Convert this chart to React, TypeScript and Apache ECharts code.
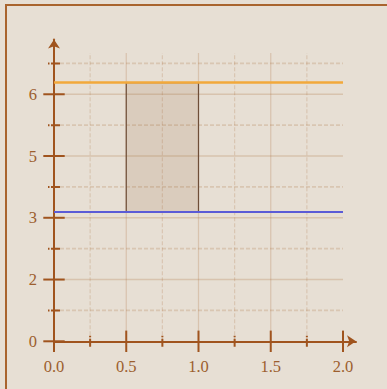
import React, { useEffect, useRef } from "react";
import * as echarts from "echarts";

// ---- data ----
const xMajor = [0, 0.5, 1, 1.5, 2];
const xMinor = [0.25, 0.75, 1.25, 1.75];
const yMajor = [0, 1.5, 3, 4.5, 6];
const yMinor = [0.75, 2.25, 3.75, 5.25, 6.75];
const gridXEnd = 2;
const gridYEnd = 7;
const lowerLevel = Math.PI;
const upperLevel = 2 * Math.PI;
const bandX = [0.5, 1.0];
const xAxisEnd = 2.09;
const yAxisEnd = 7.33;

const AXIS = "#a0541e";
const GRID = "rgba(170,110,60,0.25)";
const GRID_D = "rgba(170,110,60,0.22)";
const TEXT = "#9c5e2e";

type Render = (v: number, api: any) => number[][];

function segSeries(values: number[], render: Render, style: any, z: number) {
  return {
    type: "custom",
    coordinateSystem: "cartesian2d",
    silent: true,
    clip: false,
    z,
    data: values.map((v) => [v, 0]),
    encode: { x: 0, y: 1 },
    renderItem: (_p: any, api: any) => {
      const [a, b] = render(api.value(0), api);
      return {
        type: "line",
        shape: { x1: a[0], y1: a[1], x2: b[0], y2: b[1] },
        style: { fill: null, ...style },
      };
    },
  };
}

export default function App() {
  const ref = useRef<HTMLDivElement>(null);
  useEffect(() => {
    if (!ref.current) return;
    const chart = echarts.init(ref.current, null, { renderer: "svg" });
    const vGrid: Render = (v, api) => [api.coord([v, 0]), api.coord([v, gridYEnd])];
    const hGrid: Render = (v, api) => [api.coord([0, v]), api.coord([gridXEnd, v])];
    const xTick = (len: number): Render => (v, api) => {
      const p = api.coord([v, 0]);
      return [[p[0], p[1] - len], [p[0], p[1] + len]];
    };
    const yTick = (len: number): Render => (v, api) => {
      const p = api.coord([0, v]);
      return [[p[0] - len, p[1]], [p[0] + len, p[1]]];
    };
    chart.setOption({
      animation: false,
      backgroundColor: "#e7dfd4",
      grid: { left: 54, right: 31, top: 39.5, bottom: 47.7, containLabel: false },
      xAxis: {
        type: "value",
        min: 0,
        max: xAxisEnd,
        interval: 0.5,
        splitLine: { show: false },
        axisTick: { show: false },
        axisLine: {
          show: true,
          lineStyle: { color: AXIS, width: 2 },
          symbol: ["none", "arrow"],
          symbolSize: [9, 9],
        },
        axisLabel: {
          color: TEXT,
          fontFamily: "Liberation Serif",
          fontSize: 16.5,
          margin: 17,
          showMaxLabel: true,
          formatter: (v: number) => (v <= gridXEnd + 0.001 ? v.toFixed(1) : ""),
        },
      },
      yAxis: {
        type: "value",
        min: 0,
        max: yAxisEnd,
        interval: 1.5,
        splitLine: { show: false },
        axisTick: { show: false },
        axisLine: {
          show: true,
          lineStyle: { color: AXIS, width: 2 },
          symbol: ["none", "arrow"],
          symbolSize: [9, 9],
        },
        axisLabel: {
          color: TEXT,
          fontFamily: "Liberation Serif",
          fontSize: 16.5,
          margin: 17,
          formatter: (v: number) => (v <= 6.5 ? String(Math.round(v)) : ""),
        },
      },
      graphic: [
        {
          type: "polyline",
          shape: { points: [[6, 389], [6, 5], [387, 5]] },
          style: { stroke: "#a9642e", lineWidth: 2, fill: null },
          z: 10,
        },
      ],
      series: [
        segSeries(xMajor.filter((v) => v > 0 && v < gridXEnd), vGrid, { stroke: GRID, lineWidth: 1.2 }, 1),
        segSeries(xMinor, vGrid, { stroke: GRID_D, lineWidth: 1.2, lineDash: [4, 2] }, 1),
        segSeries(yMajor.filter((v) => v > 0), hGrid, { stroke: GRID, lineWidth: 1.5 }, 1),
        segSeries(yMinor, hGrid, { stroke: GRID_D, lineWidth: 1.8, lineDash: [4, 2] }, 1),
        {
          type: "custom",
          coordinateSystem: "cartesian2d",
          silent: true,
          z: 2,
          data: [[bandX[0], lowerLevel, bandX[1], upperLevel]],
          encode: { x: [0, 2], y: [1, 3] },
          renderItem: (_p: any, api: any) => {
            const a = api.coord([api.value(0), api.value(3)]);
            const b = api.coord([api.value(2), api.value(1)]);
            return {
              type: "rect",
              shape: { x: a[0], y: a[1], width: b[0] - a[0], height: b[1] - a[1] },
              style: { fill: "rgba(150,100,60,0.15)", stroke: "#6e4e38", lineWidth: 1.2 },
            };
          },
        },
        {
          type: "line",
          silent: true,
          z: 3,
          symbol: "none",
          data: [[0, upperLevel], [gridXEnd, upperLevel]],
          lineStyle: { color: "#f2a93b", width: 2.5 },
        },
        {
          type: "line",
          silent: true,
          z: 3,
          symbol: "none",
          data: [[0, lowerLevel], [gridXEnd, lowerLevel]],
          lineStyle: { color: "#5b5bd6", width: 2 },
        },
        segSeries(xMajor, xTick(10.7), { stroke: AXIS, lineWidth: 2 }, 5),
        segSeries(xMinor, xTick(5.5), { stroke: AXIS, lineWidth: 2, lineDash: [1.5, 1.5, 8, 0] }, 5),
        segSeries(yMajor, yTick(10.7), { stroke: AXIS, lineWidth: 2 }, 5),
        segSeries(yMinor, yTick(6), { stroke: AXIS, lineWidth: 2, lineDash: [1.5, 1.5, 8, 0] }, 5),
      ],
    });
    return () => chart.dispose();
  }, []);
  return (
    <div
      ref={ref}
      style={{ position: "fixed", left: 0, top: 0, width: 387, height: 389 }}
    />
  );
}
